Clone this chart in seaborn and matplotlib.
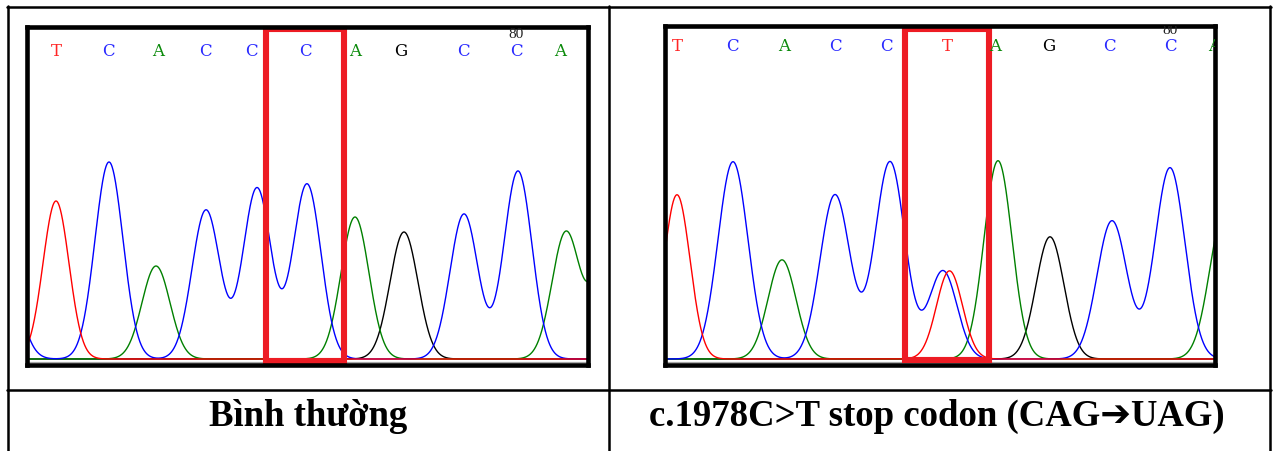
import numpy as np
import pandas as pd
import matplotlib
matplotlib.use("Agg")
import matplotlib.pyplot as plt
from matplotlib.patches import Rectangle
from matplotlib.lines import Line2D
import seaborn as sns

# ---------------- data ----------------
# Left panel: normal sequence
left_calls = list("TCACCCAGCCA")
left_call_pos = [26, 78, 128, 175, 221, 275, 325, 371, 433, 486, 530]
left_peak_base = ["C", "T", "C", "A", "C", "C", "C", "A", "G", "C", "C", "A", "A"]
left_peak_pos = [-24, 26, 79, 126, 176, 227, 277, 325, 374, 434, 488, 536, 580]
left_peak_height = [85, 158, 197, 93, 149, 171, 175, 142, 127, 145, 188, 127, 140]
left_peak_width = [14, 13, 14, 14, 14, 14, 14, 14, 14, 14, 14, 14, 14]
left_highlight = 5
left_title = "Bình thường"

# Right panel: mutant c.1978C>T
right_calls = list("TCACCTAGCCA")
right_call_pos = [10, 65, 117, 168, 219, 280, 328, 382, 442, 503, 547]
right_peak_base = ["T", "C", "A", "C", "C", "C", "T", "A", "G", "C", "C", "A"]
right_peak_pos = [10, 66, 115, 168, 223, 276, 282.5, 331, 383, 445, 503, 558]
right_peak_height = [164, 197, 99, 164, 197, 88, 88, 198, 122, 138, 191, 150]
right_peak_width = [13, 15, 14, 15, 15, 14, 13, 14, 14, 15, 15, 15]
right_highlight = 5
right_title = "c.1978C>T stop codon (CAG\u2794UAG)"

numbered_call_index = 9
numbered_call_label = "80"

bases = ["G", "A", "C", "T"]

# ---------------- style ----------------
W, H = 1278, 452
trace_colors = {"T": "#FF0000", "C": "#0000FF", "A": "#008000", "G": "#000000"}
letter_colors = {"T": "#FF2626", "C": "#2A2AFF", "A": "#0A8A0A", "G": "#000000"}
box_red = "#ED1C24"

sns.set_theme(style="white")
plt.rcParams["font.family"] = ["Liberation Serif", "DejaVu Sans"]
plt.rcParams["text.color"] = "black"

fig = plt.figure(figsize=(W / 100, H / 100), dpi=100)
fig.patch.set_facecolor("white")


def px_rect(x0, y0, x1, y1):
    return [x0 / W, 1 - y1 / H, (x1 - x0) / W, (y1 - y0) / H]


def draw_panel(ax, calls, call_pos, pbase, ppos, ph, pw, hi, xlim, letter_y, num_y):
    x = np.linspace(xlim[0] - 5, xlim[1] + 5, 2200)
    frames = []
    for b in bases:
        sig = np.zeros_like(x)
        for pb, pp, hh, ww in zip(pbase, ppos, ph, pw):
            if pb == b:
                sig += hh * np.exp(-0.5 * ((x - pp) / ww) ** 2)
        frames.append(pd.DataFrame({"scan": x, "signal": sig, "base": b}))
    df = pd.concat(frames, ignore_index=True)
    ax.axhline(-3, color="#A8A8A8", lw=0.9, zorder=1)
    sns.lineplot(data=df, x="scan", y="signal", hue="base", hue_order=bases,
                 palette=trace_colors, estimator=None, sort=False, legend=False,
                 lw=1.0, ax=ax)
    ax.set_xlim(*xlim)
    ax.set_ylim(-6, 332.5)
    ax.set_xticks([])
    ax.set_yticks([])
    ax.set_xlabel("")
    ax.set_ylabel("")
    for s in ax.spines.values():
        s.set_visible(True)
        s.set_color("black")
        s.set_linewidth(3.3)
    # base calls
    for i, (c, p) in enumerate(zip(calls, call_pos)):
        ax.text(p, letter_y, c, color=letter_colors[c], ha="center", va="center",
                fontsize=12, family=["DejaVu Serif"], clip_on=True)
        if i == numbered_call_index:
            ax.text(p, num_y, numbered_call_label, color="#222222", ha="center",
                    va="center", fontsize=11, family=["Liberation Serif"], clip_on=True)
    # highlight box around mutated base
    spacing = (call_pos[-1] - call_pos[0]) / (len(call_pos) - 1)
    hw = 0.78 * spacing
    c = call_pos[hi]
    ax.add_patch(Rectangle((c - hw, -1.5), 2 * hw, 331.5, fill=False,
                           ec=box_red, lw=4.4, zorder=2.4, clip_on=False))


axL = fig.add_axes(px_rect(27.5, 27.5, 587.5, 366))
draw_panel(axL, left_calls, left_call_pos, left_peak_base, left_peak_pos,
           left_peak_height, left_peak_width, left_highlight, (-2.5, 557.5), 308, 325)

axR = fig.add_axes(px_rect(664.5, 27.0, 1214.5, 366))
draw_panel(axR, right_calls, right_call_pos, right_peak_base, right_peak_pos,
           right_peak_height, right_peak_width, right_highlight, (-2.5, 547.5), 313, 329)

# table lines
lw_tab = 1.8
def hline(y, x0, x1):
    fig.add_artist(Line2D([x0 / W, x1 / W], [1 - y / H, 1 - y / H], color="black", lw=lw_tab))
def vline(x, y0, y1):
    fig.add_artist(Line2D([x / W, x / W], [1 - y0 / H, 1 - y1 / H], color="black", lw=lw_tab))

hline(7.5, 6.5, 1271)
hline(391, 6.5, 1271)
vline(7.5, 6.5, 452)
vline(608.5, 6.5, 452)
vline(1270, 6.5, 452)

fig.text(308 / W, 1 - 426 / H, left_title, ha="center", va="baseline",
         fontsize=26.5, fontweight="bold", color="black")
fig.text(937 / W, 1 - 426 / H, right_title, ha="center", va="baseline",
         fontsize=26.5, fontweight="bold", color="black")

fig.savefig("out.png", dpi=100, facecolor="white")
